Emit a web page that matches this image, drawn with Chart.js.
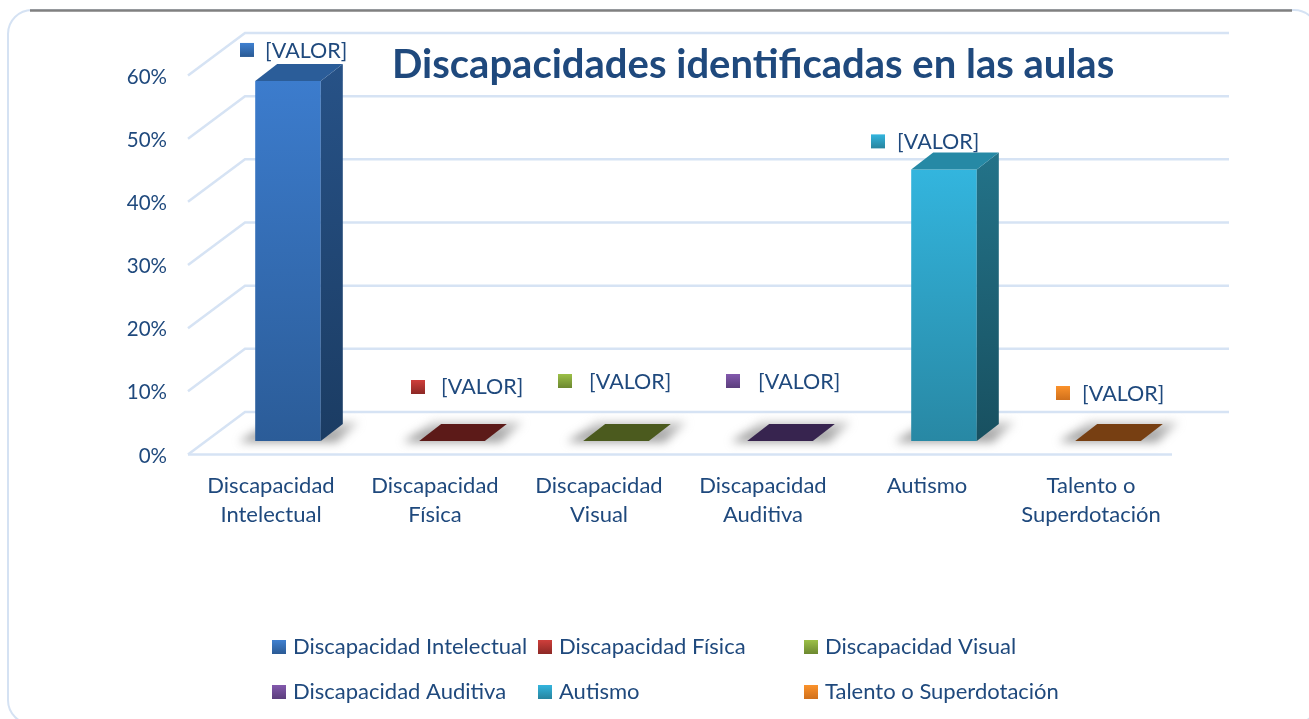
<!DOCTYPE html>
<html>
<head>
<meta charset="utf-8">
<style>
html,body{margin:0;padding:0;background:#fff;overflow:hidden}
#wrap{position:absolute;left:0;top:0;width:1309px;height:719px}
</style>
<script src="https://cdn.jsdelivr.net/npm/chart.js@4"></script>
</head>
<body>
<div id="wrap"><canvas id="c" width="1309" height="719"></canvas></div>
<script>
const categories = [["Discapacidad","Intelectual"],["Discapacidad","Física"],["Discapacidad","Visual"],["Discapacidad","Auditiva"],"Autismo",["Talento o","Superdotación"]];
const legendNames = ["Discapacidad Intelectual","Discapacidad Física","Discapacidad Visual","Discapacidad Auditiva","Autismo","Talento o Superdotación"];
const values = [57,0,0,0,43,0];
const valueLabels = ["[VALOR]","[VALOR]","[VALOR]","[VALOR]","[VALOR]","[VALOR]"];
const titleText = "Discapacidades identificadas en las aulas";

const TEXT = "#1f497d", FONT = "Lato";
const palette = [
  {hi:"#3c7ccd",lo:"#2b5c98",sideHi:"#275287",sideLo:"#1b3c63",top:"#2b5d99",key:["#3f80d0","#2a5a94"]},
  {hi:"#c83a36",lo:"#8e2825",sideHi:"#6a1c1a",sideLo:"#5a1816",top:"#5c1a18",key:["#cf3f3b","#8c2825"]},
  {hi:"#98bc45",lo:"#6e8a30",sideHi:"#4e6020",sideLo:"#46561c",top:"#4b5a1e",key:["#9cc048","#6c8830"]},
  {hi:"#7f58a8",lo:"#5c3f7d",sideHi:"#3c2856",sideLo:"#36234d",top:"#37244f",key:["#8359ad","#5b3e7c"]},
  {hi:"#33b5de",lo:"#2888a4",sideHi:"#237389",sideLo:"#185060",top:"#2689a5",key:["#33b5de","#27849e"]},
  {hi:"#f8902a",lo:"#c0681a",sideHi:"#7c4212",sideLo:"#723c10",top:"#773f12",key:["#fb922b","#d0701c"]}
];
const DEPTH_X = 22, DEPTH_Y = 17;
const WALL_DX = 57, WALL_UP = 29, WALL_DOWN = 13.5;
const labelShift = [[-48,-31],[-41,-54],[-58,-60],[-54,-60],[-73,-28],[-52,-48]];
const labelGap = [25,30,31,32,26,26];
const legendX = [272,538,804], legendY = [647,692];

function vGrad(ctx,y0,y1,a,b){const g=ctx.createLinearGradient(0,y0,0,y1);g.addColorStop(0,a);g.addColorStop(1,b);return g;}
function poly(ctx,pts,fill){ctx.beginPath();pts.forEach((p,i)=>i?ctx.lineTo(p[0],p[1]):ctx.moveTo(p[0],p[1]));ctx.closePath();ctx.fillStyle=fill;ctx.fill();}

const card = {id:"card",beforeDraw(chart){
  const c=chart.ctx;c.save();
  c.fillStyle="#fff";c.fillRect(0,0,1309,719);
  c.strokeStyle="#d5e2f3";c.lineWidth=2;
  c.beginPath();c.roundRect(8,10,1310,714,24);c.stroke();
  c.strokeStyle="#808080";c.lineWidth=2.5;
  c.beginPath();c.moveTo(30,10.5);c.lineTo(1292,10.5);c.stroke();
  c.restore();
}};

const walls = {id:"walls",beforeDatasetsDraw(chart){
  const c=chart.ctx,y=chart.scales.y,a=chart.chartArea;
  const x0=a.left-18,x1=x0+WALL_DX,xEnd=a.right+39;
  c.save();c.strokeStyle="#d6e3f4";c.lineWidth=2.5;
  y.ticks.forEach(t=>{
    const p=y.getPixelForValue(t.value);
    c.beginPath();c.moveTo(x0,p+WALL_DOWN);c.lineTo(x1,p-WALL_UP);c.lineTo(xEnd,p-WALL_UP);c.stroke();
  });
  const p0=y.getPixelForValue(0);
  c.beginPath();c.moveTo(x0,p0+WALL_DOWN);c.lineTo(xEnd-WALL_DX,p0+WALL_DOWN);c.stroke();
  // cast shadows on the floor
  chart.getDatasetMeta(0).data.forEach(b=>{
    const l=b.x-b.width/2,r=b.x+b.width/2;
    c.save();c.filter="blur(5px)";
    const g=c.createLinearGradient(0,p0-21,0,p0);g.addColorStop(0,"rgba(160,160,160,.45)");g.addColorStop(1,"rgba(100,100,100,.7)");
    poly(c,[[l-16,p0+1],[l+14,p0-19],[r+38,p0-19],[r+16,p0+1]],g);
    c.restore();
  });
  c.restore();
}};

const faces = {id:"faces",afterDatasetsDraw(chart){
  const c=chart.ctx;
  chart.getDatasetMeta(0).data.forEach((b,i)=>{
    const l=b.x-b.width/2,r=b.x+b.width/2,t=b.y,bt=b.base,p=palette[i];
    if(bt-t>1){
      poly(c,[[r,t],[r+DEPTH_X,t-DEPTH_Y],[r+DEPTH_X,bt-DEPTH_Y],[r,bt]],vGrad(c,t-DEPTH_Y,bt,p.sideHi,p.sideLo));
    }
    poly(c,[[l,t],[l+DEPTH_X,t-DEPTH_Y],[r+DEPTH_X,t-DEPTH_Y],[r,t]],p.top);
  });
}};

const extras = {id:"extras",afterDraw(chart){
  const c=chart.ctx;c.save();
  c.textBaseline="middle";c.textAlign="left";c.fillStyle=TEXT;
  c.font="bold 40px "+FONT;c.fillText(titleText,392,65);
  c.font="21.5px "+FONT;
  chart.getDatasetMeta(0).data.forEach((b,i)=>{
    const s=labelShift[i],x=b.x+s[0],y=b.y+s[1];
    c.fillStyle=vGrad(c,y-7,y+7,palette[i].key[0],palette[i].key[1]);
    c.fillRect(x,y-7,14,14);
    c.fillStyle=TEXT;c.fillText(valueLabels[i],x+labelGap[i],y+(i===1?0:1));
  });
  c.font="22px "+FONT;
  legendNames.forEach((n,i)=>{
    const x=legendX[i%3],y=legendY[Math.floor(i/3)];
    c.fillStyle=vGrad(c,y-7,y+7,palette[i].key[0],palette[i].key[1]);
    c.fillRect(x,y-7,14,14);
    c.fillStyle=TEXT;c.fillText(n,x+21,y);
  });
  c.restore();
}};

new Chart(document.getElementById("c"),{
  type:"bar",
  data:{labels:categories,datasets:[{
    data:values,
    barPercentage:0.4,categoryPercentage:1,
    backgroundColor(ctx){
      const ch=ctx.chart,a=ch.chartArea;if(!a)return "#888";
      const top=ch.scales.y.getPixelForValue(values[ctx.dataIndex]),bot=ch.scales.y.getPixelForValue(0);
      return vGrad(ch.ctx,top,Math.max(bot,top+1),palette[ctx.dataIndex].hi,palette[ctx.dataIndex].lo);
    }
  }]},
  options:{
    responsive:false,animation:false,
    layout:{padding:{left:0,top:62,right:119,bottom:0}},
    plugins:{legend:{display:false},title:{display:false},tooltip:{enabled:false}},
    scales:{
      x:{
        grid:{display:false},border:{display:false},
        afterFit(s){s.height=278;},
        ticks:{color:TEXT,font:{family:FONT,size:22,lineHeight:1.32},padding:22,labelOffset:-17,maxRotation:0,autoSkip:false}
      },
      y:{
        min:0,max:60,
        grid:{display:false,drawTicks:false},border:{display:false},
        afterFit(s){s.width=206;},
        ticks:{stepSize:10,color:TEXT,font:{family:FONT,size:20.5},padding:39,labelOffset:15,callback:v=>v+"%"}
      }
    }
  },
  plugins:[card,walls,faces,extras]
});
</script>
</body>
</html>
